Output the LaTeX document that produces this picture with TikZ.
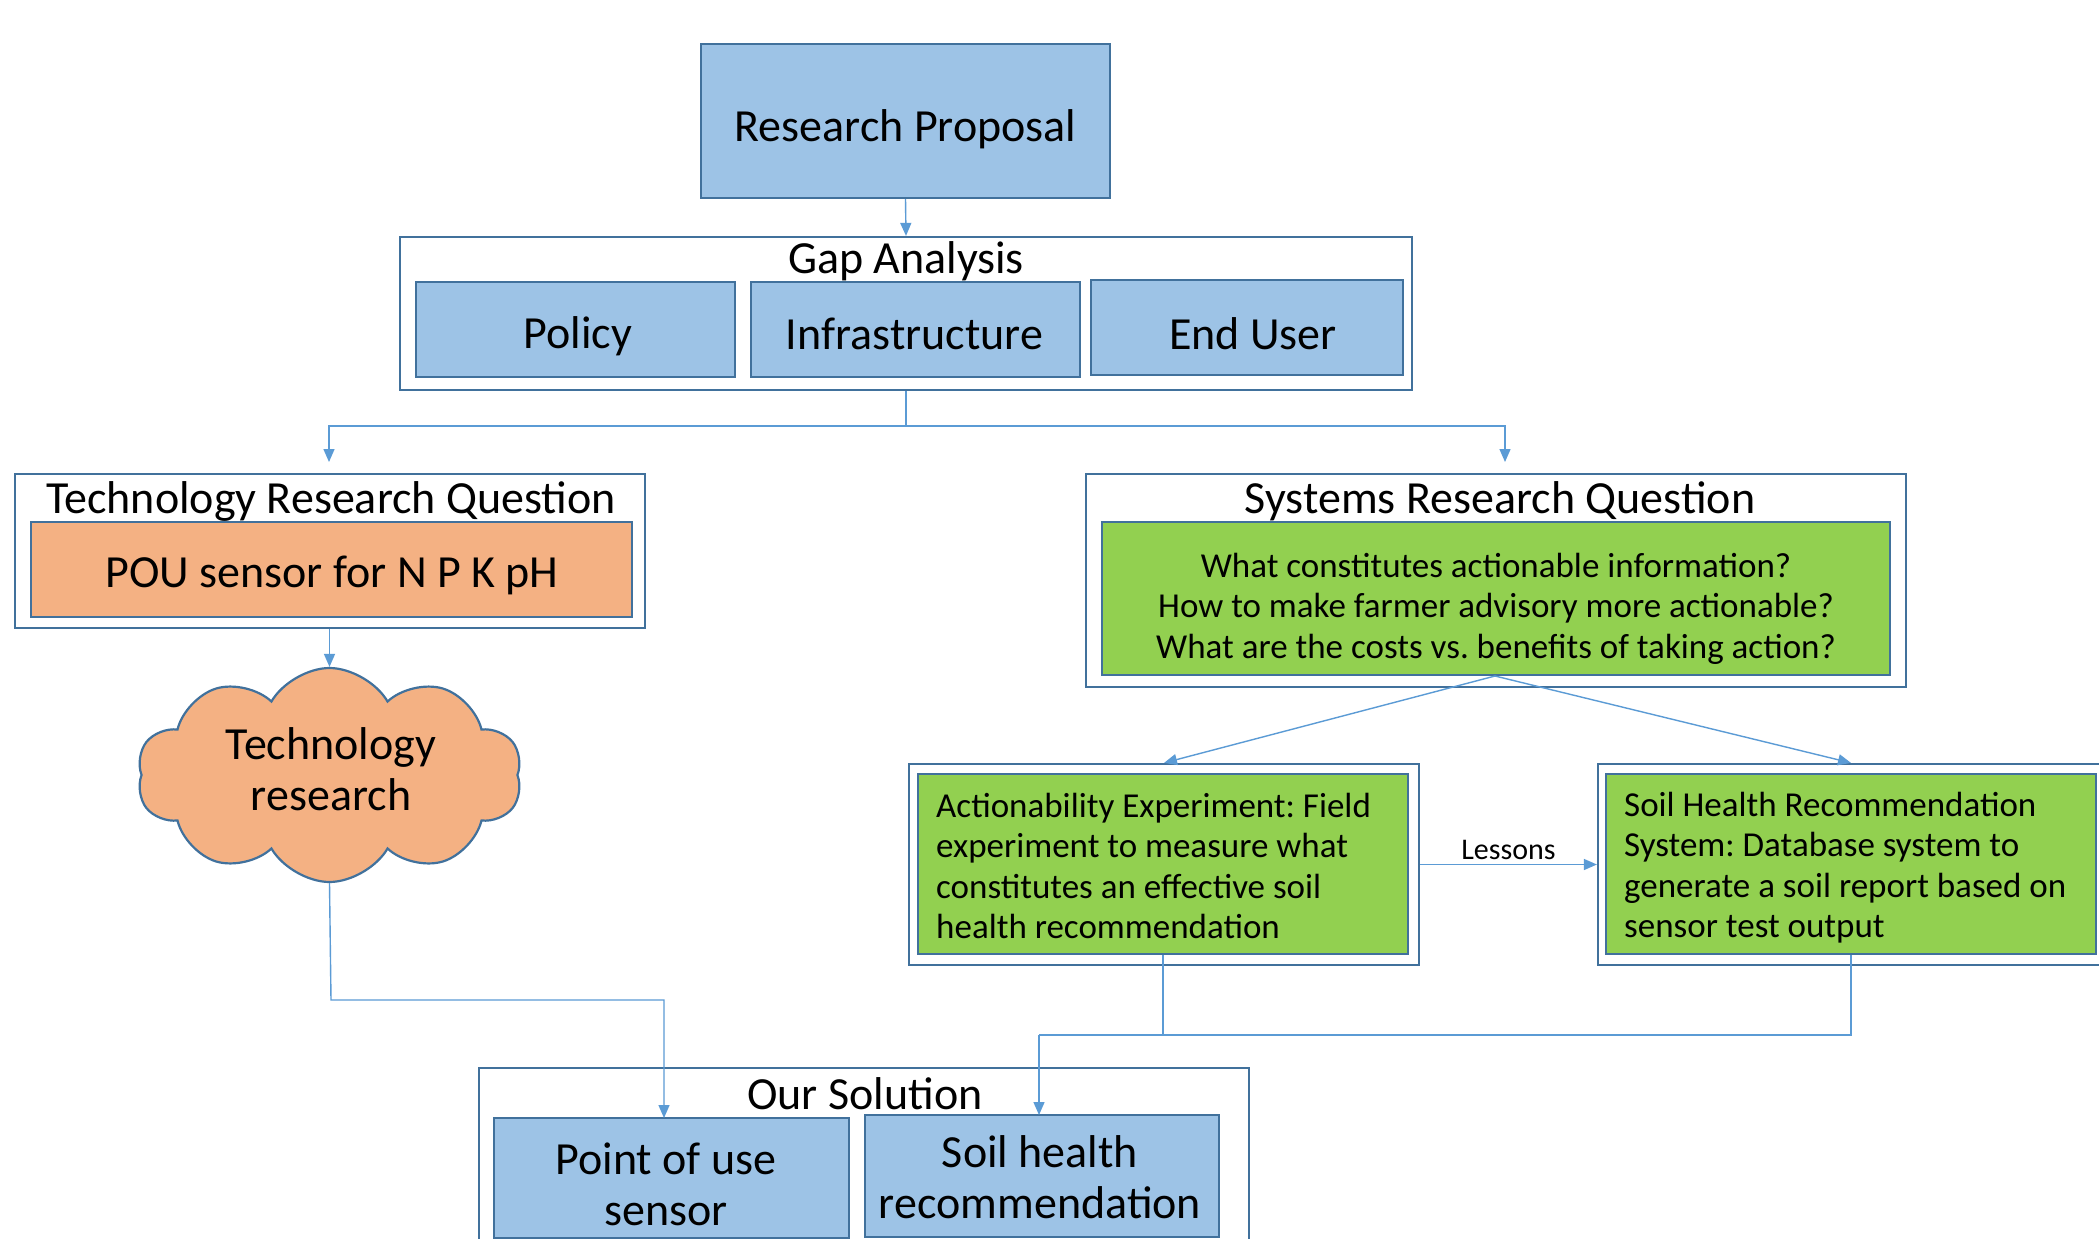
\documentclass[tikz,border=0pt]{standalone}
\usepackage{fontspec}
\setmainfont{Carlito}
\usetikzlibrary{shapes.symbols,arrows.meta,positioning}
\definecolor{boxblue}{HTML}{9DC3E6}
\definecolor{edgeblue}{HTML}{41719C}
\definecolor{lineblue}{HTML}{5B9BD5}
\definecolor{boxorange}{HTML}{F4B183}
\definecolor{boxgreen}{HTML}{92D050}
\tikzset{
  bigtxt/.style={font=\frenchspacing\fontsize{46}{51}\selectfont},
  midtxt/.style={font=\frenchspacing\fontsize{35}{40.5}\selectfont},
  base/.style={rectangle, inner sep=0pt, line width=2.2pt, draw=edgeblue},
  bluebox/.style={base, fill=boxblue},
  orangebox/.style={base, fill=boxorange},
  greenbox/.style={base, fill=boxgreen},
  outerbox/.style={base, fill=white},
  biglab/.style={inner sep=0pt, align=center, bigtxt},
  midlab/.style={inner sep=0pt, align=left, midtxt},
  conn/.style={draw=lineblue, line width=1.4pt},
  arr/.style={conn, -{Triangle[length=13pt,width=11pt]}},
}
\begin{document}
\begin{tikzpicture}[x=1pt,y=-1pt]
\useasboundingbox (0,0) rectangle (2099,1239);
\clip (0,0) rectangle (2099,1239);
\fill[white] (0,0) rectangle (2099,1239);

% Research proposal
\node[bluebox, minimum width=409pt, minimum height=154pt] (rp) at (905.5,121) {};
\node[biglab] (rplab) at (905.5,129) {Research Proposal};

% Gap analysis
\node[outerbox, minimum width=1012pt, minimum height=153pt] (gap) at (906,313.5) {};
\node[biglab] (gaptitle) at (906,261) {Gap Analysis};
\node[bluebox, minimum width=319pt, minimum height=95pt] (policy) at (575.5,329.5) {};
\node[biglab] (policylab) at (578,336) {Policy};
\node[bluebox, minimum width=329pt, minimum height=95pt] (infra) at (915.5,329.5) {};
\node[biglab] (infralab) at (914.5,333.5) {Infrastructure};
\node[bluebox, minimum width=312pt, minimum height=95pt] (enduser) at (1247,327.5) {};
\node[biglab] (enduserlab) at (1253,333.5) {End User};

% Technology research question
\node[outerbox, minimum width=630pt, minimum height=154pt] (tech) at (330,551) {};
\node[biglab] (techtitle) at (331,501) {Technology Research Question};
\node[orangebox, minimum width=601pt, minimum height=95pt] (pou) at (331.5,569.5) {};
\node[biglab] (poulab) at (332,575) {POU sensor for N P K pH};

% Cloud
\node[cloud, cloud puffs=10, cloud puff arc=120, cloud ignores aspect, minimum width=385pt, minimum height=214pt,
      fill=boxorange, draw=edgeblue, line width=2.2pt, inner sep=0pt] (cloud) at (329.5,775) {};
\node[biglab] (cloudlab) at (331,769) {Technology\\research};

% Systems research question
\node[outerbox, minimum width=820pt, minimum height=213pt] (sys) at (1496,580.5) {};
\node[biglab] (systitle) at (1500,501) {Systems Research Question};
\node[greenbox, minimum width=788pt, minimum height=153pt] (sysq) at (1496,598.5) {};
\node[midlab, align=center] (sysqlab) at (1496,608.5)
  {What constitutes actionable information?\\How to make farmer advisory more actionable?\\What are the costs vs. benefits of taking action?};

% Actionability experiment
\node[outerbox, minimum width=510pt, minimum height=201pt] (act) at (1164,864.5) {};
\node[greenbox, minimum width=490pt, minimum height=180pt] (actin) at (1163,864) {};
\node[midlab, anchor=west] (actlab) at (936,866)
  {Actionability Experiment: Field\\experiment to measure what\\constitutes an effective soil\\health recommendation};

% Soil health recommendation system
\node[outerbox, minimum width=512pt, minimum height=201pt] (shr) at (1854,864.5) {};
\node[greenbox, minimum width=490pt, minimum height=180pt] (shrin) at (1851,864) {};
\node[midlab, anchor=west] (shrlab) at (1624,867.5)
  {Soil Health Recommendation\\System: Database system to\\generate a soil report based on\\sensor test output};

% Our solution
\node[outerbox, minimum width=770pt, minimum height=200pt] (sol) at (864,1168) {};
\node[biglab] (soltitle) at (865,1094) {Our Solution};
\node[bluebox, minimum width=355pt, minimum height=120pt] (pus) at (671.5,1178) {};
\node[biglab] (puslab) at (666,1184) {Point of use\\sensor};
\node[bluebox, minimum width=354pt, minimum height=122pt] (shrec) at (1042,1176) {};
\node[biglab] (shreclab) at (1040,1177.5) {Soil health\\recommendation};

% Connectors
\draw[arr] (rp.south) -- (gap.north);
\coordinate (split) at (906,426);
\coordinate (techin) at (329,462);
\coordinate (sysin) at (1505,462);
\draw[conn] (gap.south) -- (split);
\draw[arr] (split) -| (techin);
\draw[arr] (split) -| (sysin);
\draw[arr] (tech.south -| cloud.north) -- (cloud.north);
\coordinate (cbend) at (331,1000);
\coordinate (pusin) at (664,1118);
\draw[arr] (cloud.south) -- (cbend) -| (pusin);
\coordinate (qfoot) at (1495,676);
\draw[arr] (qfoot) -- (act.north);
\draw[arr] (qfoot) -- (shr.north -| shrin.north);
\draw[arr] (act.east) -- node[above=4pt, inner sep=0pt, font=\fontsize{30}{32}\selectfont] (lessons) {Lessons} (shr.west);
\coordinate (jl) at (1163,1035);
\coordinate (jr) at (1851,1035);
\coordinate (jd) at (1039,1035);
\coordinate (shrecin) at (1039,1115);
\draw[conn] (actin.south) -- (jl);
\draw[conn] (shrin.south) -- (jr) -- (jd);
\draw[arr] (jd) -- (shrecin);
\end{tikzpicture}
\end{document}
